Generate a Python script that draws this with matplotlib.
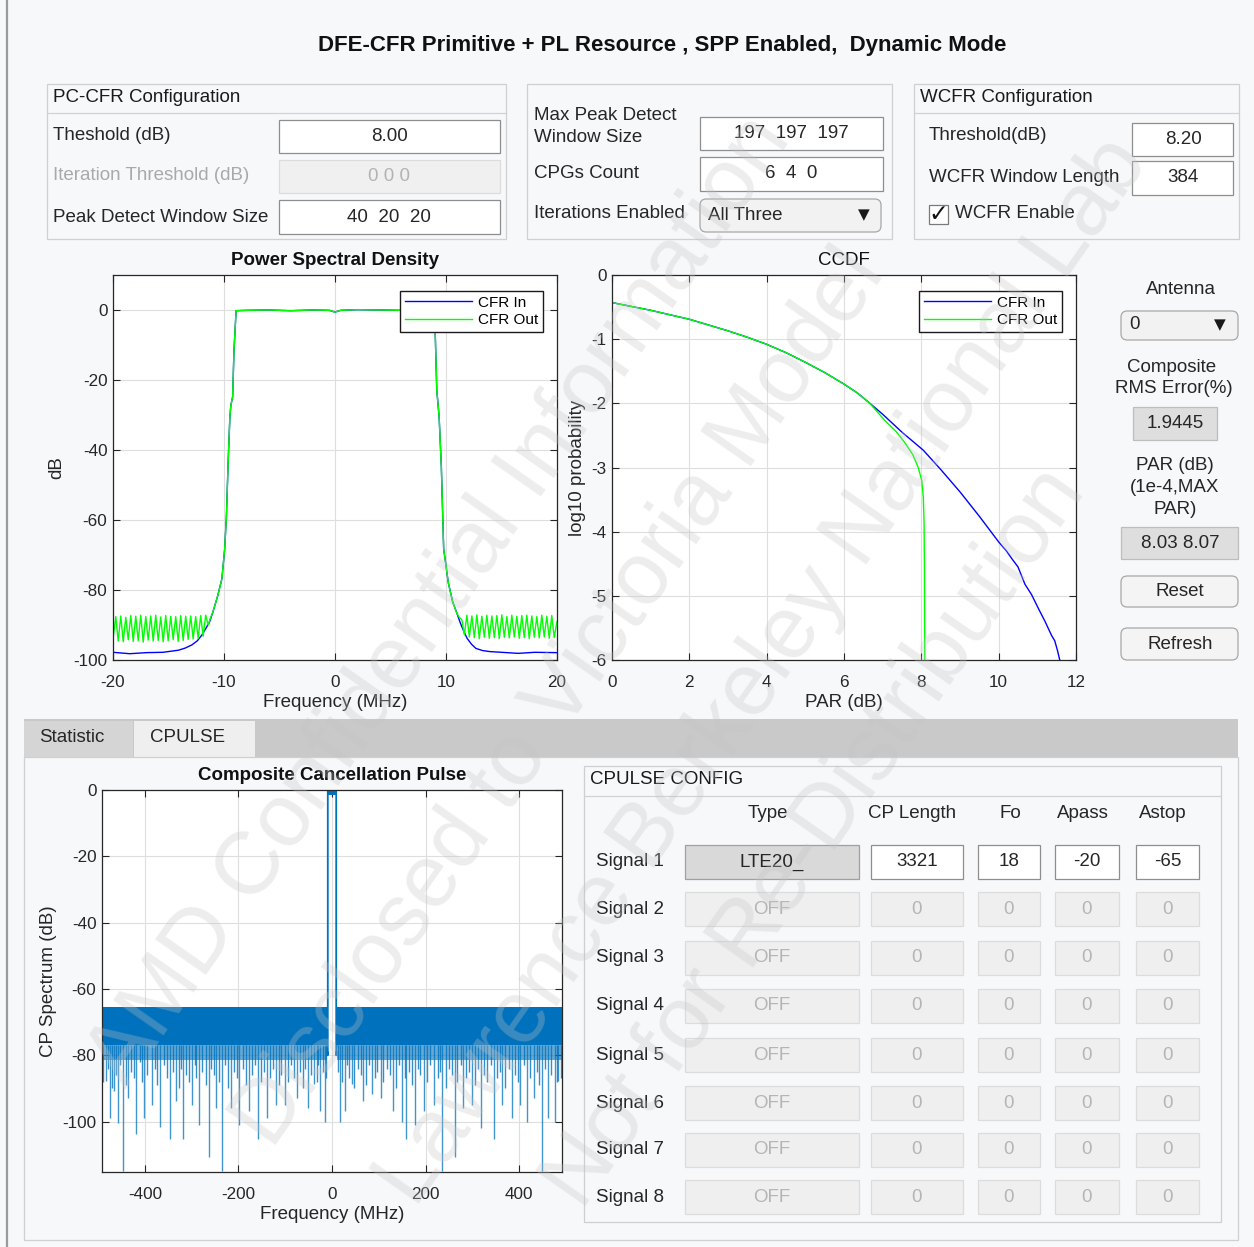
import matplotlib
matplotlib.use("Agg")
import matplotlib.pyplot as plt
from matplotlib.patches import Rectangle, FancyBboxPatch
from matplotlib.lines import Line2D

plt.rcParams['font.family'] = ['Liberation Sans', 'DejaVu Sans']
plt.rcParams['axes.unicode_minus'] = False

# ---------------- data ----------------
title_text = "DFE-CFR Primitive + PL Resource , SPP Enabled,  Dynamic Mode"

pccfr_labels = ["Theshold (dB)", "Iteration Threshold (dB)", "Peak Detect Window Size"]
pccfr_values = ["8.00", "0 0 0", "40  20  20"]
pccfr_enabled = [True, False, True]

peak_labels = ["Max Peak Detect\nWindow Size", "CPGs Count", "Iterations Enabled"]
peak_values = ["197  197  197", "6  4  0", "All Three"]

wcfr_labels = ["Threshold(dB)", "WCFR Window Length", "WCFR Enable"]
wcfr_values = ["8.20", "384"]

antenna_value = "0"
rms_error = "1.9445"
par_values = "8.03 8.07"

tab_names = ["Statistic", "CPULSE"]
table_rows = ["Signal 1", "Signal 2", "Signal 3", "Signal 4",
              "Signal 5", "Signal 6", "Signal 7", "Signal 8"]
table_cols = ["Type", "CP Length", "Fo", "Apass", "Astop"]
signal1_values = ["LTE20_", "3321", "18", "-20", "-65"]
off_values = ["OFF", "0", "0", "0", "0"]

# PSD (MHz, dB)
psd_in_left_f = [-20.0, -18.5, -17.0, -15.5, -14.1, -13.5, -12.9, -12.4, -12.0, -11.6, -11.3]
psd_in_left_db = [-97.8, -98.2, -97.9, -97.8, -97.2, -96.6, -95.7, -94.5, -92.9, -90.8, -89.1]
psd_in_right_f = [11.3, 11.6, 11.9, 12.3, 12.7, 13.3, 13.96, 15.0, 16.5, 18.0, 20.0]
psd_in_right_db = [-89.5, -91.8, -93.8, -95.5, -96.7, -97.3, -97.6, -97.8, -98.1, -97.8, -97.9]

psd_core_f = [-11.0, -10.56, -10.19, -9.94, -9.78, -9.63, -9.47, -9.38, -9.22, -9.10, -8.91,
              -8.0, -6.0, -4.0, -2.0, -0.5, 0.0, 0.5, 2.0, 4.0, 6.0, 8.0,
              8.96, 9.04, 9.17, 9.38, 9.58, 9.79, 10.0, 10.2, 10.6, 11.0]
psd_core_db = [-86.3, -81.6, -76.8, -68.3, -58.8, -43.7, -30.5, -27.2, -24.8, -11.5, -0.2,
               -0.1, 0.0, -0.2, 0.0, -0.1, -0.6, -0.1, 0.1, 0.0, -0.1, 0.0,
               -0.3, -7.8, -22.9, -30.5, -44.7, -68.3, -73.0, -77.8, -83.4, -86.8]

psd_out_left_f = [-20.00, -19.75, -19.53, -19.30, -19.08, -18.85, -18.63, -18.40, -18.18, -17.95,
                  -17.73, -17.50, -17.28, -17.05, -16.83, -16.60, -16.38, -16.15, -15.93, -15.70,
                  -15.48, -15.25, -15.03, -14.80, -14.58, -14.35, -14.13, -13.90, -13.68, -13.45,
                  -13.23, -13.00, -12.78, -12.55, -12.33, -12.10, -11.88, -11.65, -11.43, -11.20]
psd_out_left_db = [-94.0, -87.6, -94.6, -87.4, -94.8, -87.8, -94.2, -87.3, -94.7, -87.5,
                   -94.5, -87.2, -94.9, -87.6, -94.3, -87.4, -94.6, -87.2, -94.4, -87.7,
                   -94.8, -87.3, -94.5, -87.5, -94.2, -87.6, -94.7, -87.3, -94.4, -87.5,
                   -94.1, -87.4, -94.0, -87.6, -93.8, -87.3, -93.2, -87.2, -90.0, -87.8]
psd_out_right_f = [11.20, 11.43, 11.65, 11.88, 12.10, 12.33, 12.55, 12.78, 13.00, 13.23,
                   13.45, 13.68, 13.90, 14.13, 14.35, 14.58, 14.80, 15.03, 15.25, 15.48,
                   15.70, 15.93, 16.15, 16.38, 16.60, 16.83, 17.05, 17.28, 17.50, 17.73,
                   17.95, 18.18, 18.40, 18.63, 18.85, 19.08, 19.30, 19.53, 19.75, 20.00]
psd_out_right_db = [-87.8, -88.5, -92.8, -87.2, -93.4, -87.4, -93.6, -87.1, -93.9, -87.5,
                    -93.5, -87.2, -93.8, -87.4, -93.6, -87.3, -93.9, -87.1, -93.5, -87.6,
                    -93.7, -87.2, -93.4, -87.5, -93.8, -87.3, -93.6, -87.2, -93.9, -87.4,
                    -93.5, -87.6, -93.7, -87.2, -93.4, -87.5, -93.8, -87.3, -93.6, -89.0]

# CCDF (PAR dB, log10 probability)
ccdf_par_common = [0.0, 0.5, 1.0, 1.5, 2.0, 2.5, 3.0, 3.5, 4.0, 4.5, 5.0, 5.5, 6.0, 6.35, 6.67]
ccdf_log_common = [-0.43, -0.49, -0.55, -0.62, -0.69, -0.78, -0.87, -0.97, -1.08, -1.21,
                   -1.36, -1.52, -1.70, -1.84, -2.00]
ccdf_par_in_tail = [7.0, 7.5, 8.05, 8.5, 9.0, 9.5, 10.0, 10.2, 10.34, 10.5, 10.68, 10.85,
                    11.03, 11.2, 11.37, 11.45, 11.52, 11.58]
ccdf_log_in_tail = [-2.17, -2.45, -2.73, -3.03, -3.38, -3.76, -4.16, -4.30, -4.42, -4.55,
                    -4.82, -4.98, -5.20, -5.40, -5.62, -5.70, -5.85, -6.0]
ccdf_par_out_tail = [7.06, 7.35, 7.58, 7.78, 7.92, 8.01, 8.05, 8.07, 8.08, 8.09]
ccdf_log_out_tail = [-2.27, -2.44, -2.62, -2.80, -3.00, -3.20, -3.45, -3.85, -4.50, -6.0]

# Composite cancellation pulse spectrum (MHz, dB)
cp_band_left_f = [-491.52, -10.0]
cp_band_right_f = [10.0, 491.52]
cp_band_top = -65.5
cp_band_bottom = -77.0
cp_fringe_bottom = -81.5
cp_core_f = [-10.0, -9.0, -9.0, 9.0, 9.0, 10.0]
cp_core_db = [-79.0, -80.0, 0.0, 0.0, -80.0, -79.0]
cp_minor_f_left = [-489, -479, -470, -462, -452, -441, -429, -424, -411, -405,
                   -395, -379, -373, -360, -352, -340, -328, -322, -311, -305,
                   -293, -290, -277, -270, -258, -252, -241, -228, -222, -210,
                   -204, -191, -184, -172, -165, -152, -146, -133, -127, -114,
                   -108, -95, -88, -81, -69, -62, -57, -45, -33, -30,
                   -20, -13]
cp_minor_db_left = [-88, -84, -90, -86, -83, -89, -85, -87, -82, -88,
                    -86, -84, -89, -83, -87, -85, -90, -84, -86, -88,
                    -83, -87, -85, -89, -84, -86, -88, -83, -90, -85,
                    -87, -84, -89, -86, -83, -88, -85, -87, -84, -89,
                    -86, -88, -83, -87, -85, -90, -84, -86, -88, -83,
                    -85, -87]
cp_minor_f_right = [13, 21, 32, 37, 48, 55, 61, 72, 79, 91,
                    97, 110, 117, 123, 137, 144, 155, 164, 171, 183,
                    189, 203, 209, 226, 230, 243, 250, 257, 268, 275,
                    287, 293, 305, 311, 325, 331, 340, 353, 358, 370,
                    378, 391, 397, 410, 424, 438, 443, 455, 468, 481,
                    489]
cp_minor_db_right = [-85, -88, -83, -87, -90, -84, -86, -89, -83, -87,
                     -85, -88, -84, -86, -90, -83, -87, -85, -89, -84,
                     -86, -88, -83, -87, -85, -90, -84, -86, -88, -83,
                     -87, -85, -89, -84, -86, -88, -83, -87, -85, -90,
                     -84, -86, -88, -83, -87, -85, -89, -84, -86, -88,
                     -87]
cp_spike_f_left = [-482, -475, -466, -458, -446, -437, -419, -401, -385, -368,
                   -347, -334, -318, -299, -284, -263, -248, -235, -216, -199,
                   -178, -158, -139, -120, -101, -75, -52, -39, -25, -16]
cp_spike_db_left = [-87.7, -99.0, -90.8, -100.5, -115.0, -92.8, -103.6, -99.0, -94.9, -101.5,
                    -105.1, -93.9, -105.1, -94.9, -101.0, -110.7, -95.9, -115.0, -95.9, -101.0,
                    -96.9, -105.1, -99.0, -94.9, -94.9, -92.8, -95.9, -88.8, -96.9, -100.0]
cp_spike_f_right = [17, 27, 43, 66, 85, 104, 131, 150, 159, 177,
                    196, 219, 236, 263, 280, 299, 318, 347, 363, 385,
                    402, 417, 432, 449, 462, 476, 484]
cp_spike_db_right = [-100.0, -96.9, -88.8, -93.9, -91.8, -92.8, -96.9, -100.0, -105.1, -101.0,
                     -96.9, -94.9, -115.0, -110.7, -95.9, -94.9, -102.0, -105.1, -94.9, -99.0,
                     -94.9, -100.0, -92.8, -115.0, -99.0, -100.0, -87.7]

watermark_lines = ["AMD Confidential Information", "Disclosed to Victoria Model",
                   "Lawrence Berkeley National Lab", "Not for Re-Distribution"]

# ---------------- helpers ----------------
W, H = 1254, 1247
BG = '#F7F8FA'
TXT = '#262626'
BLUE_CP = '#0072BD'

fig = plt.figure(figsize=(W / 100, H / 100), dpi=100)
fig.patch.set_facecolor(BG)


def fx(x):
    return x / W


def fy(y):
    return 1 - y / H


def rect(x0, y0, x1, y1, fc, ec, lw=0.9, rounded=False, z=1):
    if rounded:
        p = FancyBboxPatch((fx(x0), fy(y1)), (x1 - x0) / W, (y1 - y0) / H,
                           boxstyle='round,pad=0,rounding_size=0.005',
                           transform=fig.transFigure, fc=fc, ec=ec, lw=lw, zorder=z)
    else:
        p = Rectangle((fx(x0), fy(y1)), (x1 - x0) / W, (y1 - y0) / H,
                      transform=fig.transFigure, fc=fc, ec=ec, lw=lw, zorder=z)
    fig.add_artist(p)


def hline(x0, x1, y, color='#d2d2d2', lw=0.9):
    fig.add_artist(Line2D([fx(x0), fx(x1)], [fy(y), fy(y)], color=color, lw=lw, zorder=2))


def T(x, y, s, size=13.5, ha='left', color=TXT, weight='normal', family=None, z=3):
    kw = {}
    if family:
        kw['family'] = family
    fig.text(fx(x), fy(y), s, fontsize=size, ha=ha, va='center', color=color,
             fontweight=weight, zorder=z, **kw)


# ---------------- GUI frame ----------------
fig.add_artist(Line2D([fx(7), fx(7)], [0, 1], color='#9a9a9a', lw=1.6, zorder=2))
T(662, 45, title_text, size=16, ha='center', weight='bold', color='#111111')

EDIT_EC = '#8e8e8e'

# PC-CFR panel
rect(47, 84, 506, 239, BG, '#d0d0d0')
hline(47, 506, 113)
T(53, 98, "PC-CFR Configuration", color='#1a1a1a')
for lab, val, en, yc, (b0, b1) in zip(pccfr_labels, pccfr_values, pccfr_enabled,
                                      [136, 176, 217], [(120, 153), (160, 193), (200, 234)]):
    T(53, yc, lab, color=TXT if en else '#a9a9a9')
    if en:
        rect(279, b0, 500, b1, 'white', EDIT_EC)
        T(389, (b0 + b1) / 2, val, ha='center')
    else:
        rect(279, b0, 500, b1, '#f0f0f0', '#dcdcdc')
        T(389, (b0 + b1) / 2, val, ha='center', color='#b3b3b3')

# Max peak panel
rect(527, 84, 892, 239, BG, '#d0d0d0')
T(534, 115, peak_labels[0].split("\n")[0])
T(534, 137, peak_labels[0].split("\n")[1])
T(534, 174, peak_labels[1])
T(534, 214, peak_labels[2])
rect(700, 117, 883, 150, 'white', EDIT_EC)
T(791, 133, peak_values[0], ha='center')
rect(700, 157, 883, 191, 'white', EDIT_EC)
T(791, 174, peak_values[1], ha='center')
rect(700, 199, 881, 232, '#f2f2f2', '#a8a8a8', rounded=True)
T(708, 216, peak_values[2])
T(864, 215, "▼", size=11, ha='center', family='DejaVu Sans', color='#1a1a1a')

# WCFR panel
rect(914, 84, 1239, 239, BG, '#d0d0d0')
hline(914, 1239, 113)
T(920, 98, "WCFR Configuration", color='#1a1a1a')
T(929, 135, wcfr_labels[0])
rect(1132, 123, 1233, 156, 'white', EDIT_EC)
T(1183, 140, wcfr_values[0], ha='center')
T(929, 177, wcfr_labels[1])
rect(1132, 161, 1233, 195, 'white', EDIT_EC)
T(1183, 178, wcfr_values[1], ha='center')
rect(929, 205, 948, 224, 'white', '#7a7a7a')
T(938.5, 214, "✓", size=17, ha='center', family='DejaVu Sans', color='#111111')
T(955, 214, wcfr_labels[2])

# Right side controls
T(1181, 290, "Antenna", ha='center')
rect(1121, 311, 1238, 340, '#f2f2f2', '#a8a8a8', rounded=True)
T(1129, 325, antenna_value)
T(1220, 325, "▼", size=11, ha='center', family='DejaVu Sans', color='#1a1a1a')
T(1172, 367, "Composite", ha='center')
T(1174, 389, "RMS Error(%)", ha='center')
rect(1133, 407, 1217, 440, '#dedede', '#bdbdbd')
T(1175, 424, rms_error, ha='center')
T(1175, 465, "PAR (dB)", ha='center')
T(1175, 487, "(1e-4,MAX", ha='center')
T(1175, 509, "PAR)", ha='center')
rect(1121, 527, 1238, 559, '#dedede', '#bdbdbd')
T(1180, 543, par_values, ha='center')
rect(1121, 576, 1238, 607, '#f4f4f4', '#a8a8a8', rounded=True)
T(1180, 592, "Reset", ha='center')
rect(1121, 628, 1238, 660, '#f4f4f4', '#a8a8a8', rounded=True)
T(1180, 644, "Refresh", ha='center')

# Tab group
rect(24, 719, 1238, 757, '#c9c9c9', 'none', lw=0)
rect(24, 721, 133, 757, '#d5d5d5', 'none', lw=0)
rect(134, 721, 255, 757, '#efefef', 'none', lw=0)
T(39, 738, tab_names[0])
T(150, 738, tab_names[1])
rect(24, 757, 1238, 1240, BG, '#d0d0d0')

# CPULSE config table
rect(584, 766, 1221, 1222, BG, '#cfcfcf', z=1.5)
hline(584, 1221, 796)
T(590, 780, "CPULSE CONFIG", color='#1a1a1a')
col_x = [(685, 859), (871, 963), (978, 1040), (1055, 1119), (1136, 1199)]
col_head_x = [768, 912, 1010, 1083, 1163]
row_y = [862, 909, 958, 1006, 1055, 1103, 1150, 1197]
for name, hx in zip(table_cols, col_head_x):
    T(hx, 814, name, ha='center')
for i, (rname, yc) in enumerate(zip(table_rows, row_y)):
    T(596, yc, rname)
    vals = signal1_values if i == 0 else off_values
    for j, ((c0, c1), v) in enumerate(zip(col_x, vals)):
        if i == 0:
            if j == 0:
                rect(c0, yc - 17, c1, yc + 17, '#d9d9d9', '#a0a0a0', z=2)
            else:
                rect(c0, yc - 17, c1, yc + 17, 'white', EDIT_EC, z=2)
            T((c0 + c1) / 2, yc, v, ha='center', z=4)
        else:
            rect(c0, yc - 17, c1, yc + 17, '#efefef', '#dcdcdc', z=2)
            T((c0 + c1) / 2, yc, v, ha='center', color='#b5b5b5', z=4)


# ---------------- axes ----------------
def make_ax(x0, y0, x1, y1):
    ax = fig.add_axes([fx(x0), fy(y1), (x1 - x0) / W, (y1 - y0) / H])
    ax.set_zorder(5)
    ax.set_facecolor('white')
    ax.tick_params(direction='in', length=5, width=0.8, colors=TXT, labelsize=12.3,
                   top=True, right=True)
    ax.tick_params(axis='x', pad=11)
    ax.tick_params(axis='y', pad=4)
    ax.grid(True, color='#dedede', lw=0.8)
    ax.set_axisbelow(True)
    for s in ax.spines.values():
        s.set_color('#262626')
        s.set_linewidth(0.9)
    return ax


leg_kw = dict(loc='upper right', frameon=True, fancybox=False, edgecolor='#1a1a1a',
              framealpha=1, fontsize=11, handlelength=4.4, handletextpad=0.4,
              borderpad=0.3, labelspacing=0.25, borderaxespad=0)

# PSD
ax1 = make_ax(113, 275, 557, 660)
ax1.plot(psd_in_left_f + psd_core_f + psd_in_right_f,
         psd_in_left_db + psd_core_db + psd_in_right_db, color='#0000FF', lw=1.0, label='CFR In')
ax1.plot(psd_out_left_f + psd_core_f + psd_out_right_f,
         psd_out_left_db + psd_core_db + psd_out_right_db, color='#00FF00', lw=1.0, label='CFR Out')
ax1.set_xlim(-20, 20)
ax1.set_ylim(-100, 10)
ax1.set_xticks([-20, -10, 0, 10, 20])
ax1.set_yticks([-100, -80, -60, -40, -20, 0])
ax1.set_title("Power Spectral Density", fontsize=13.5, fontweight='bold', color='#111111', pad=7)
ax1.set_xlabel("Frequency (MHz)", fontsize=13.5, color=TXT, labelpad=3)
ax1.set_ylabel("dB", fontsize=13.5, color=TXT, labelpad=6)
ax1.legend(bbox_to_anchor=((543 - 113) / 444, 1 - (291 - 275) / 385), **leg_kw)

# CCDF
ax2 = make_ax(612, 275, 1076, 660)
ax2.plot(ccdf_par_common + ccdf_par_in_tail, ccdf_log_common + ccdf_log_in_tail,
         color='#0000FF', lw=1.0, label='CFR In')
ax2.plot(ccdf_par_common + ccdf_par_out_tail, ccdf_log_common + ccdf_log_out_tail,
         color='#00FF00', lw=1.0, label='CFR Out')
ax2.set_xlim(0, 12)
ax2.set_ylim(-6, 0)
ax2.set_xticks([0, 2, 4, 6, 8, 10, 12])
ax2.set_yticks([-6, -5, -4, -3, -2, -1, 0])
ax2.set_title("CCDF", fontsize=13.5, color='#111111', pad=7)
ax2.set_xlabel("PAR (dB)", fontsize=13.5, color=TXT, labelpad=3)
ax2.set_ylabel("log10 probability", fontsize=13.5, color=TXT, labelpad=4)
ax2.legend(bbox_to_anchor=((1062 - 612) / 464, 1 - (291 - 275) / 385), **leg_kw)

# Composite cancellation pulse
ax3 = make_ax(102, 790, 562, 1172)
ax3.fill_between(cp_band_left_f, cp_band_top, cp_band_bottom, color=BLUE_CP, lw=0)
ax3.fill_between(cp_band_right_f, cp_band_top, cp_band_bottom, color=BLUE_CP, lw=0)
ax3.fill_between(cp_band_left_f, cp_band_bottom, cp_fringe_bottom, color=BLUE_CP, lw=0, alpha=0.6)
ax3.fill_between(cp_band_right_f, cp_band_bottom, cp_fringe_bottom, color=BLUE_CP, lw=0, alpha=0.6)
ax3.vlines(cp_minor_f_left, cp_minor_db_left, cp_band_bottom, color=BLUE_CP, lw=1.0, alpha=0.8)
ax3.vlines(cp_minor_f_right, cp_minor_db_right, cp_band_bottom, color=BLUE_CP, lw=1.0, alpha=0.8)
ax3.vlines(cp_spike_f_left, cp_spike_db_left, cp_band_bottom, color=BLUE_CP, lw=1.0, alpha=0.75)
ax3.vlines(cp_spike_f_right, cp_spike_db_right, cp_band_bottom, color=BLUE_CP, lw=1.0, alpha=0.75)
ax3.plot(cp_core_f, cp_core_db, color=BLUE_CP, lw=1.3)
ax3.fill_between(cp_core_f[2:4], 0, -1.4, color=BLUE_CP, lw=0)
ax3.set_xlim(-491.52, 491.52)
ax3.set_ylim(-115.2, 0)
ax3.set_xticks([-400, -200, 0, 200, 400])
ax3.set_yticks([-100, -80, -60, -40, -20, 0])
ax3.set_title("Composite Cancellation Pulse", fontsize=13.5, fontweight='bold', color='#111111', pad=7)
ax3.set_xlabel("Frequency (MHz)", fontsize=13.5, color=TXT, labelpad=3)
ax3.set_ylabel("CP Spectrum (dB)", fontsize=13.5, color=TXT, labelpad=4)

# ---------------- watermark ----------------
wm_centers = [(440, 601), (560, 699), (763, 672), (815, 838)]
for s, (cx, cy) in zip(watermark_lines, wm_centers):
    fig.text(fx(cx), fy(cy), s, fontsize=64, rotation=55, rotation_mode='anchor',
             ha='center', va='center', color='#c4c4c4', alpha=0.3, zorder=100)

fig.savefig("out.png", dpi=100, facecolor=BG)
